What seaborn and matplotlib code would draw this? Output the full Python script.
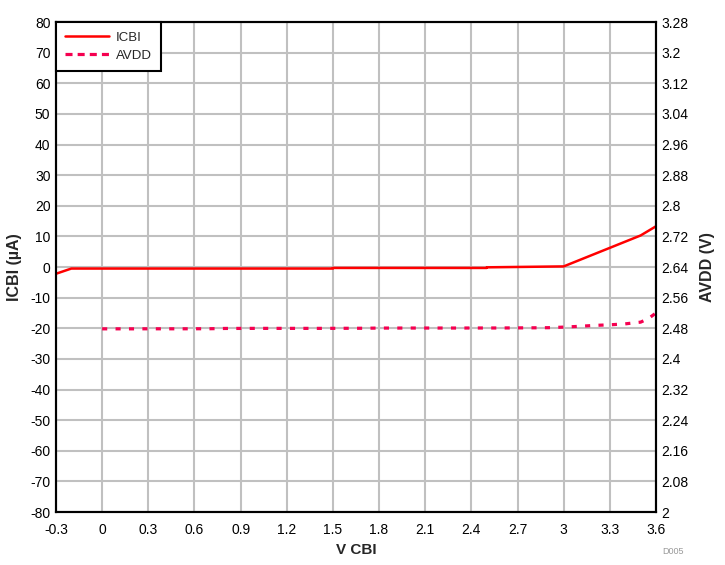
import matplotlib.pyplot as plt
import seaborn as sns
import pandas as pd
from matplotlib.lines import Line2D

# --- data
v_icbi = [-0.3, -0.2, 0.0, 0.5, 1.0, 1.5, 1.5, 2.0, 2.5, 2.5, 3.0, 3.5, 3.6]
icbi = [-2.2, -0.5, -0.5, -0.5, -0.5, -0.5, -0.3, -0.3, -0.3, -0.1, 0.2, 10.3, 13.3]

v_avdd = [0.0, 0.1, 0.2, 0.3, 0.4, 0.5, 0.6, 0.7, 0.8, 0.9, 1.0, 1.1, 1.2,
          1.3, 1.4, 1.5, 1.6, 1.7, 1.8, 1.9, 2.0, 2.1, 2.2, 2.3, 2.4, 2.5,
          2.6, 2.7, 2.8, 2.9, 3.0, 3.1, 3.2, 3.3, 3.4, 3.5, 3.55, 3.6]
avdd = [2.4785, 2.4785, 2.4785, 2.4786, 2.4786, 2.4786, 2.4787, 2.4788, 2.4795, 2.4796, 2.4797, 2.4797, 2.4797,
        2.4797, 2.4797, 2.4798, 2.4799, 2.48, 2.4805, 2.4805, 2.4806, 2.4806, 2.4806, 2.4806, 2.4807, 2.4807,
        2.4808, 2.481, 2.4812, 2.4815, 2.483, 2.485, 2.4875, 2.489, 2.4915, 2.496, 2.505, 2.52]

x_ticks = [-0.3, 0, 0.3, 0.6, 0.9, 1.2, 1.5, 1.8, 2.1, 2.4, 2.7, 3, 3.3, 3.6]
x_labels = ['-0.3', '0', '0.3', '0.6', '0.9', '1.2', '1.5', '1.8', '2.1', '2.4', '2.7', '3', '3.3', '3.6']
left_ticks = list(range(-80, 81, 10))
right_ticks = [2 + 0.08 * i for i in range(17)]
right_labels = ['2', '2.08', '2.16', '2.24', '2.32', '2.4', '2.48', '2.56', '2.64',
                '2.72', '2.8', '2.88', '2.96', '3.04', '3.12', '3.2', '3.28']

sns.set_style("white")
plt.rcParams['font.family'] = ['Liberation Sans', 'DejaVu Sans']
plt.rcParams['axes.unicode_minus'] = False

RED = '#FF0000'
PINK = '#F50050'

df_i = pd.DataFrame({'V': v_icbi, 'ICBI': icbi})
df_a = pd.DataFrame({'V': v_avdd, 'AVDD': avdd})

fig = plt.figure(figsize=(7.25, 5.65), dpi=100)
ax = fig.add_axes([0.0772, 0.0938, 0.8276, 0.8672])
ax2 = ax.twinx()

sns.lineplot(data=df_i, x='V', y='ICBI', ax=ax, color=RED, linewidth=1.8,
             estimator=None, sort=False, legend=False)
sns.lineplot(data=df_a, x='V', y='AVDD', ax=ax2, color=PINK, linewidth=2.3,
             linestyle=(0, (1.6, 2.6)), estimator=None, sort=False, legend=False)

ax.set_xlim(-0.3, 3.6)
ax.set_ylim(-80, 80)
ax2.set_ylim(2, 3.28)

ax.set_xticks(x_ticks)
ax.set_xticklabels(x_labels)
ax.set_yticks(left_ticks)
ax2.set_yticks(right_ticks)
ax2.set_yticklabels(right_labels)

ax.grid(True, color='#C0C0C0', linewidth=1.5)
ax.set_axisbelow(True)
for a in (ax, ax2):
    a.tick_params(length=0, labelsize=10, pad=4, colors='black')
    for s in a.spines.values():
        s.set_color('black')
        s.set_linewidth(1.5)
ax.tick_params(axis='x', pad=8)

ax.set_xlabel('V CBI', fontsize=11, fontweight='bold', labelpad=4)
ax.set_ylabel('ICBI (µA)', fontsize=11.5, fontweight='bold', labelpad=6)
ax2.set_ylabel('AVDD (V)', fontsize=11.5, fontweight='bold', labelpad=8)

handles = [Line2D([], [], color=RED, linewidth=1.8),
           Line2D([], [], color=PINK, linewidth=2.3, linestyle=(0, (2.2, 1.6)))]
leg = ax2.legend(handles, ['ICBI', 'AVDD'], loc='upper left', fontsize=9.5, frameon=True,
                 fancybox=False, borderaxespad=0, handlelength=3.3, handletextpad=0.55,
                 borderpad=0.7, labelspacing=0.45)
leg.get_frame().set_edgecolor('black')
leg.get_frame().set_linewidth(1.5)
leg.get_frame().set_alpha(1)

fig.text(0.928, 0.02, 'D005', fontsize=6.5, color='#999999', ha='center')

plt.savefig('out.png', dpi=100)
plt.close()
